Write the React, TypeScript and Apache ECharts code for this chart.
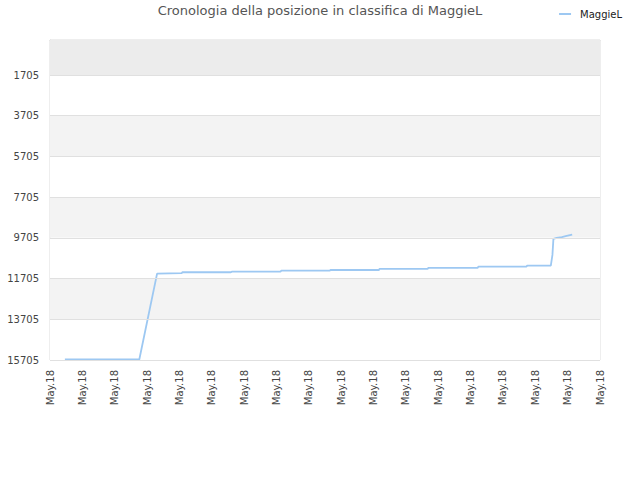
import React, { useEffect, useRef } from "react";
import * as echarts from "echarts";

const titleText = "Cronologia della posizione in classifica di MaggieL";
const seriesName = "MaggieL";
const tickLabels = [
  "May.18", "May.18", "May.18", "May.18", "May.18", "May.18",
  "May.18", "May.18", "May.18", "May.18", "May.18", "May.18",
  "May.18", "May.18", "May.18", "May.18", "May.18", "May.18",
];
const yTicks = [1705, 3705, 5705, 7705, 9705, 11705, 13705, 15705];
const yMin = -15;
const yMax = 15705;
const bandEdges = [-15, 1705, 3705, 5705, 7705, 9705, 11705, 13705, 15705];
const bandColors = ["#ececec", "#ffffff", "#f3f3f3", "#ffffff", "#f3f3f3", "#ffffff", "#f3f3f3", "#ffffff"];
const xPos = [0.46, 2.76, 3.31, 4.07, 4.09, 5.59, 5.62, 7.13, 7.15, 8.65, 8.67, 10.17, 10.18, 11.67, 11.69, 13.22, 13.24, 14.73, 14.75, 15.48, 15.53, 15.56, 15.66, 15.82, 15.97, 16.14];
const ranks = [15680, 15680, 11460, 11440, 11395, 11395, 11364, 11364, 11313, 11313, 11283, 11283, 11231, 11231, 11182, 11182, 11116, 11116, 11067, 11067, 10543, 9756, 9707, 9672, 9608, 9544];

const FONT = "DejaVu Sans";

export default function App() {
  const ref = useRef<HTMLDivElement>(null);
  useEffect(() => {
    if (!ref.current) return;
    const chart = echarts.init(ref.current, undefined, { renderer: "svg" });
    const bands = bandColors.map((c, i) => [
      { yAxis: bandEdges[i], itemStyle: { color: c } },
      { yAxis: bandEdges[i + 1] },
    ]);
    chart.setOption({
      animation: false,
      backgroundColor: "#ffffff",
      title: {
        text: titleText,
        left: "center",
        top: 4,
        padding: 0,
        textStyle: { fontFamily: FONT, fontSize: 13, fontWeight: "normal", color: "#555555" },
      },
      legend: {
        data: [seriesName],
        right: 18,
        top: 9,
        padding: 0,
        icon: "rect",
        itemWidth: 12,
        itemHeight: 2,
        textStyle: { fontFamily: FONT, fontSize: 10, color: "#222222", padding: [0, 0, 0, 4] },
      },
      grid: {
        left: 50,
        right: 40,
        top: 40,
        bottom: 120,
        show: true,
        borderColor: "#dddddd",
        borderWidth: 1,
        backgroundColor: "transparent",
      },
      xAxis: {
        type: "value",
        min: 0,
        max: tickLabels.length - 1,
        interval: 1,
        axisLine: { show: true, lineStyle: { color: "#dddddd" } },
        axisTick: { show: false },
        splitLine: { show: false },
        axisLabel: {
          rotate: 90,
          margin: 10,
          fontFamily: FONT,
          fontSize: 10,
          color: "#444444",
          formatter: (v: number) => tickLabels[Math.round(v)] ?? "",
        },
      },
      yAxis: {
        type: "value",
        inverse: true,
        min: yMin,
        max: yMax,
        axisLine: { show: true, lineStyle: { color: "#dddddd" } },
        axisTick: { show: false },
        splitLine: { show: false },
        axisLabel: {
          customValues: yTicks,
          margin: 11,
          fontFamily: FONT,
          fontSize: 10,
          color: "#444444",
          formatter: (v: number) => String(v),
        },
      },
      series: [
        {
          type: "line",
          name: "bands",
          data: [],
          silent: true,
          z: 1,
          markArea: { silent: true, data: bands },
        },
        {
          type: "line",
          name: "grid",
          data: [],
          silent: true,
          z: 2,
          markLine: {
            silent: true,
            symbol: "none",
            label: { show: false },
            lineStyle: { color: "#e0e0e0", type: "solid", width: 1 },
            data: yTicks.map((t) => ({ yAxis: t })),
          },
        },
        {
          type: "line",
          name: seriesName,
          z: 3,
          data: xPos.map((x, i) => [x, ranks[i]]),
          showSymbol: false,
          lineStyle: { color: "#9dc8f2", width: 1.8 },
          itemStyle: { color: "#9dc8f2" },
        },
      ],
    });
    return () => chart.dispose();
  }, []);
  return (
    <div
      ref={ref}
      style={{ position: "fixed", left: 0, top: 0, width: 640, height: 480 }}
    />
  );
}
